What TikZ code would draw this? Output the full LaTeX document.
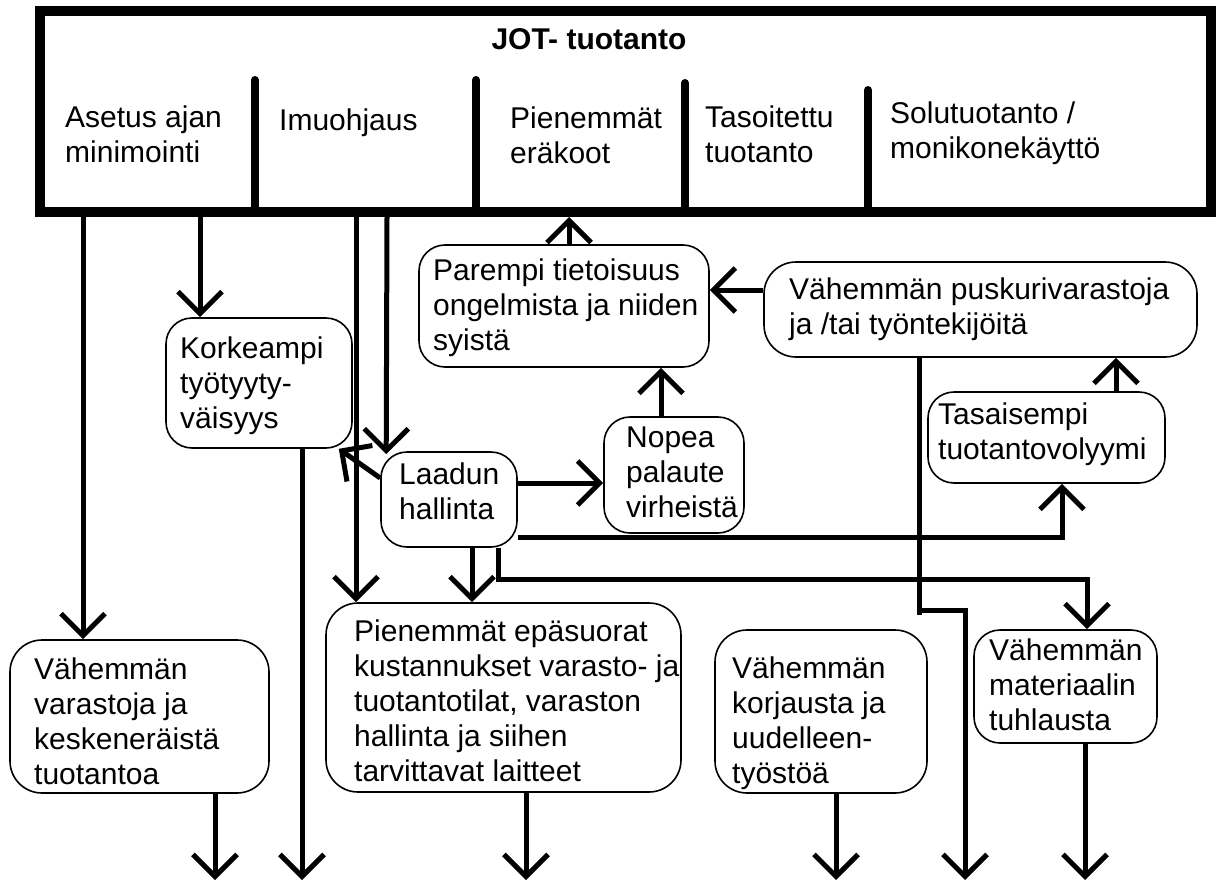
\documentclass[tikz,border=0pt]{standalone}
\usepackage{fontspec}
\setmainfont{Liberation Sans}
\usetikzlibrary{arrows.meta}
\begin{document}
\begin{tikzpicture}[x=1pt,y=-1pt,
  jotbox/.style={draw, line width=10pt, inner sep=0pt},
  divider/.style={line width=8pt, line cap=round},
  box/.style={draw, line width=1.6pt, rounded corners=26pt, inner sep=0pt},
  txt/.style={font=\fontsize{30}{35}\selectfont, align=left, inner sep=0pt, anchor=base west},
  conn/.style={line width=5pt, -{Straight Barb[length=22pt,width=44pt]}},
  plain/.style={line width=5pt}
]
\useasboundingbox (0,0) rectangle (1226,883);
\fill[white] (0,0) rectangle (1226,883);

% top box (multi-line texts are placed by the baseline of their last line)
\node[jotbox, minimum width=1171pt, minimum height=201pt] (jot) at (625.5,111.5) {};
\draw[divider] (255,212) -- (255,80);
\draw[divider] (476,212) -- (476,80);
\draw[divider] (685,212) -- (685,83);
\draw[divider] (868,212) -- (868,90);
\node[txt, anchor=base, font=\fontsize{30}{35}\selectfont\bfseries] (title) at (589,50) {JOT- tuotanto};
\node[txt] (asetus) at (65,162) {Asetus ajan\\minimointi};
\node[txt] (imuohjaus) at (279,130) {Imuohjaus};
\node[txt] (erakoot) at (510,163) {Pienemmät\\eräkoot};
\node[txt] (tasoitettu) at (705,162) {Tasoitettu\\tuotanto};
\node[txt] (solu) at (890,158) {Solutuotanto /\\monikonekäyttö};

% boxes
\node[box, minimum width=290pt, minimum height=122pt] (parempi) at (564,306) {};
\node[txt] (parempi-t) at (433,350) {Parempi tietoisuus\\ongelmista ja niiden\\syistä};

\node[box, minimum width=433pt, minimum height=95pt, rounded corners=32pt] (puskuri) at (980.5,309.5) {};
\node[txt] (puskuri-t) at (789,334) {Vähemmän puskurivarastoja\\ja /tai työntekijöitä};

\node[box, minimum width=140pt, minimum height=116pt] (nopea) at (674,475) {};
\node[txt] (nopea-t) at (626,517) {Nopea\\palaute\\virheistä};

\node[box, minimum width=237pt, minimum height=91pt] (tasaisempi) at (1046.5,437.5) {};
\node[txt] (tasaisempi-t) at (938,459) {Tasaisempi\\tuotantovolyymi};

\node[box, minimum width=186pt, minimum height=130pt] (korkeampi) at (259,383) {};
\node[txt] (korkeampi-t) at (180,428) {Korkeampi\\työtyyty-\\väisyys};

\node[box, minimum width=136pt, minimum height=95pt] (laadun) at (449,499.5) {};
\node[txt] (laadun-t) at (399,519) {Laadun\\hallinta};

\node[box, minimum width=259pt, minimum height=153pt, rounded corners=32pt] (varastoja) at (139.5,716.5) {};
\node[txt] (varastoja-t) at (34,784) {Vähemmän\\varastoja ja\\keskeneräistä\\tuotantoa};

\node[box, minimum width=355pt, minimum height=189pt, rounded corners=32pt] (pienemmat) at (503.5,697.5) {};
\node[txt] (pienemmat-t) at (354,781) {Pienemmät epäsuorat\\kustannukset varasto- ja\\tuotantotilat, varaston\\hallinta ja siihen\\tarvittavat laitteet};

\node[box, minimum width=212pt, minimum height=163pt, rounded corners=32pt] (korjausta) at (821,711.5) {};
\node[txt] (korjausta-t) at (732,783) {Vähemmän\\korjausta ja\\uudelleen-\\työstöä};

\node[box, minimum width=183pt, minimum height=113pt] (materiaalin) at (1065.5,686.5) {};
\node[txt] (materiaalin-t) at (989,730) {Vähemmän\\materiaalin\\tuhlausta};

% free ends at the bottom
\coordinate (e-varastoja) at (215,880);
\coordinate (e-korkeampi) at (302,880);
\coordinate (e-pienemmat) at (526,880);
\coordinate (e-korjausta) at (836,880);
\coordinate (e-puskuri) at (965,880);
\coordinate (e-materiaalin) at (1085,880);

% connectors from the top box
\draw[conn] (jot.south -| 83,0) -- (varastoja.north -| 83,0);
\draw[conn] (jot.south -| 200,0) -- (korkeampi.north -| 200,0);
\draw[conn] (jot.south -| 356,0) -- (pienemmat.north -| 356,0);
\draw[conn] (jot.south -| 387,0) -- ([xshift=6pt,yshift=-3pt]laadun.north west);

% connectors between boxes
\draw[conn] (parempi.north -| 569,0) -- (jot.south -| 569,0);
\draw[conn] (puskuri.west |- 0,290) -- (parempi.east |- 0,290);
\draw[conn] (nopea.north -| 661,0) -- (parempi.south -| 661,0);
\draw[conn] (tasaisempi.north -| 1116,0) -- (puskuri.south -| 1116,0);
\draw[conn] (laadun.east |- 0,483) -- (nopea.west |- 0,483);
\draw[conn] (laadun.west |- 0,478) -- ([xshift=-14pt]korkeampi.south east);
\draw[conn] (laadun.east |- 0,537) -| (tasaisempi.south -| 1062,0);
\draw[conn] (laadun.south -| 472,0) -- (pienemmat.north -| 472,0);
\draw[conn] (laadun.south -| 498,0) |- (1087,579) -- (materiaalin.north -| 1087,0);

% connectors to the bottom
\draw[conn] (varastoja.south -| 215,0) -- (e-varastoja);
\draw[conn] (korkeampi.south -| 302,0) -- (e-korkeampi);
\draw[conn] (pienemmat.south -| 526,0) -- (e-pienemmat);
\draw[conn] (korjausta.south -| 836,0) -- (e-korjausta);
\draw[conn] (materiaalin.south -| 1085,0) -- (e-materiaalin);
\draw[plain] (puskuri.south -| 919,0) -- (919,615);
\draw[conn] (919,610) -| (e-puskuri);
\end{tikzpicture}
\end{document}
